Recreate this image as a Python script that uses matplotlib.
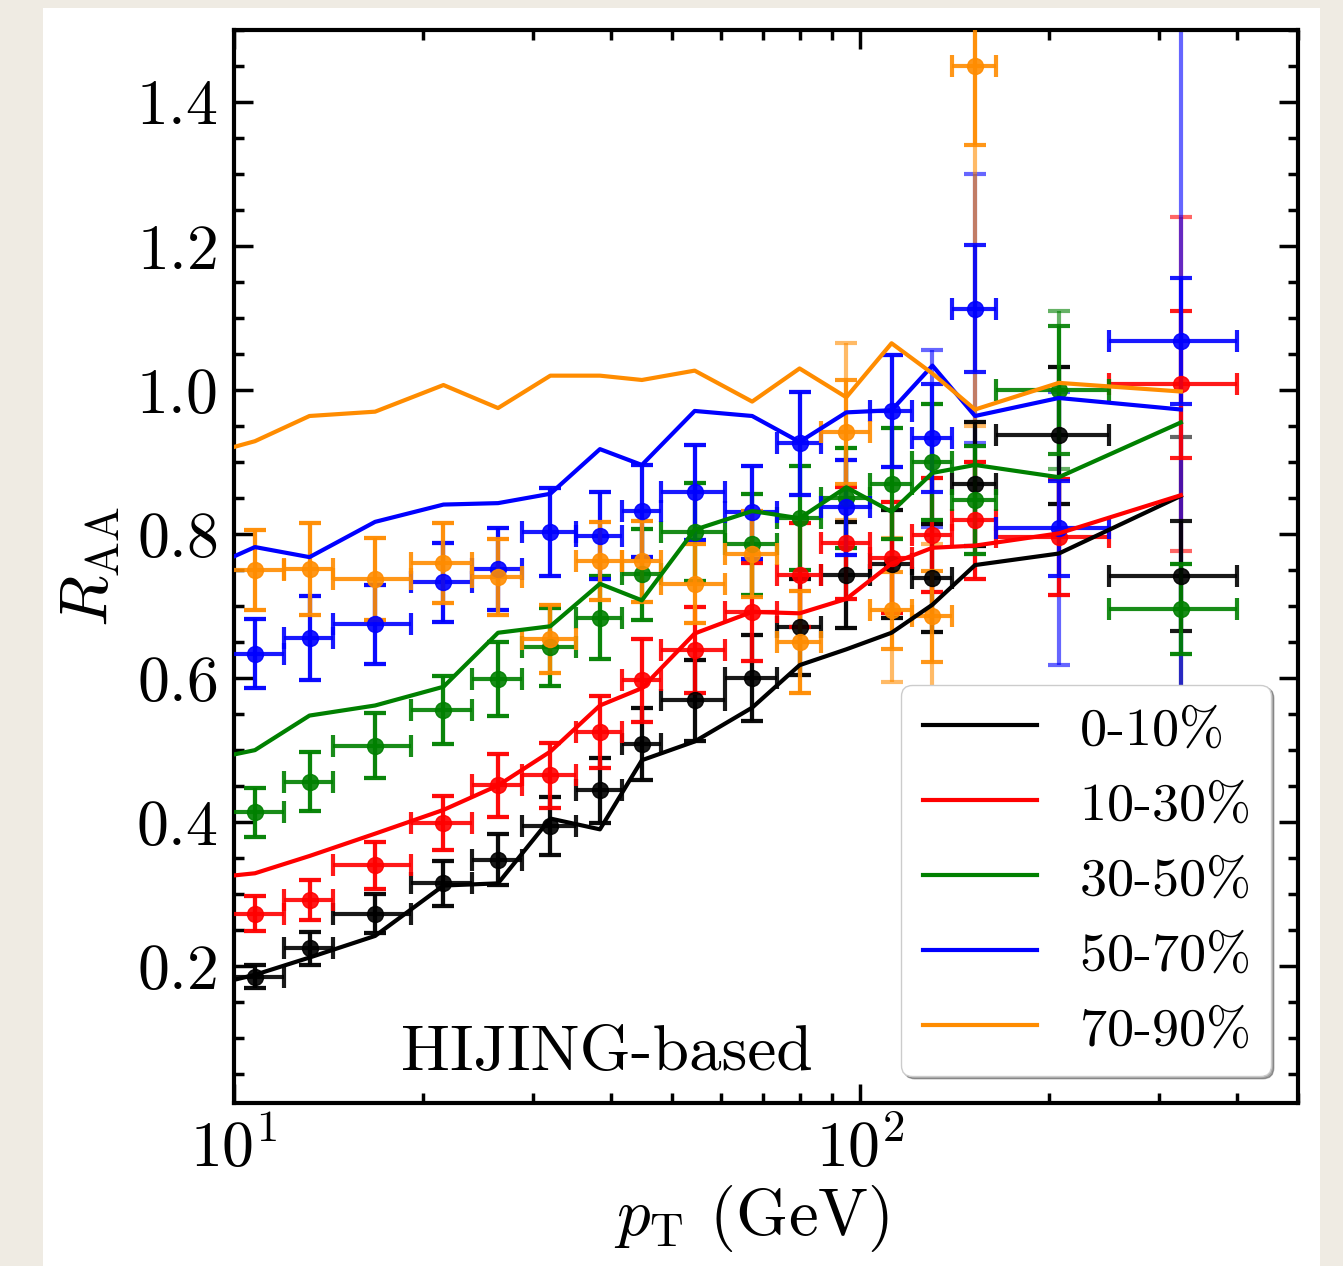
import matplotlib as mpl
mpl.use("Agg")
import matplotlib.pyplot as plt
import numpy as np
from matplotlib.patches import Rectangle

mpl.rcParams.update({
    "font.family": "serif",
    "font.serif": ["cmr10"],
    "mathtext.fontset": "cm",
    "axes.formatter.use_mathtext": True,
    "axes.unicode_minus": False,
})

# ---------------------------------------------------------------------------
# data: pT bins (GeV) shared by all centrality classes
# ---------------------------------------------------------------------------
pt = [10.8, 13.2, 16.8, 21.6, 26.4, 32.0, 38.4, 44.8, 54.4, 67.2, 80.0,
      95.0, 112.2, 130.4, 152.5, 207.5, 325.0]
pt_half = [1.2, 1.2, 2.4, 2.4, 2.4, 3.2, 3.2, 3.2, 6.4, 6.4, 6.4,
           8.6, 8.6, 9.6, 12.5, 42.5, 75.0]

# model curves (first vertex at the left edge of the plot)
pt_line = [10.0] + pt
line_0_10 = [0.181, 0.188, 0.212, 0.242, 0.312, 0.315, 0.405, 0.390, 0.486,
             0.512, 0.559, 0.618, 0.640, 0.663, 0.702, 0.757, 0.773, 0.853]
line_10_30 = [0.326, 0.329, 0.353, 0.384, 0.417, 0.451, 0.498, 0.562, 0.586,
              0.662, 0.692, 0.690, 0.710, 0.759, 0.781, 0.784, 0.801, 0.854]
line_30_50 = [0.494, 0.500, 0.548, 0.562, 0.588, 0.663, 0.672, 0.731, 0.708,
              0.806, 0.832, 0.822, 0.865, 0.831, 0.885, 0.896, 0.879, 0.955]
line_50_70 = [0.769, 0.782, 0.768, 0.817, 0.841, 0.843, 0.856, 0.918, 0.896,
              0.971, 0.964, 0.928, 0.969, 0.972, 1.034, 0.964, 0.989, 0.973]
line_70_90 = [0.921, 0.929, 0.964, 0.970, 1.007, 0.975, 1.020, 1.020, 1.014,
              1.027, 0.984, 1.030, 0.990, 1.065, 1.023, 0.973, 1.010, 0.998]

# measured R_AA, inner (capped) and outer (faint) uncertainties
nan = np.nan
raa_0_10 = [0.185, 0.225, 0.273, 0.315, 0.348, 0.395, 0.444, 0.508, 0.569,
            0.600, 0.671, 0.743, 0.759, 0.739, 0.870, 0.937, 0.742]
err_0_10 = [0.016, 0.023, 0.027, 0.031, 0.035, 0.040, 0.045, 0.050, 0.056,
            0.060, 0.066, 0.074, 0.075, 0.075, 0.086, 0.095, 0.076]
out_0_10 = [0.016, 0.023, 0.027, 0.031, 0.035, 0.040, 0.045, 0.050, 0.056,
            0.060, 0.066, 0.074, 0.075, 0.075, 0.086, 0.095, 0.193]

raa_10_30 = [0.273, 0.292, 0.340, 0.399, 0.451, 0.465, 0.525, 0.597, 0.639,
             0.692, 0.743, 0.788, 0.767, 0.799, 0.819, 0.796, 1.008]
err_10_30 = [0.024, 0.028, 0.033, 0.038, 0.044, 0.045, 0.050, 0.058, 0.060,
             0.068, 0.072, 0.078, 0.077, 0.079, 0.081, 0.080, 0.102]
out_10_30 = [0.024, 0.028, 0.033, 0.038, 0.044, 0.045, 0.050, 0.058, 0.060,
             0.068, 0.072, 0.078, 0.077, 0.079, 0.081, 0.080, 0.232]

raa_30_50 = [0.414, 0.456, 0.506, 0.556, 0.599, 0.643, 0.684, 0.744, 0.803,
             0.786, 0.822, 0.850, 0.870, 0.900, 0.847, 1.000, 0.696]
err_30_50 = [0.034, 0.041, 0.045, 0.047, 0.051, 0.054, 0.058, 0.063, 0.068,
             0.070, 0.072, 0.070, 0.077, 0.080, 0.075, 0.089, 0.063]
out_30_50 = [0.034, 0.041, 0.045, 0.047, 0.051, 0.054, 0.058, 0.063, 0.068,
             0.070, 0.072, 0.070, 0.077, 0.080, 0.075, 0.110, 0.063]

raa_50_70 = [0.634, 0.656, 0.675, 0.733, 0.752, 0.803, 0.798, 0.832, 0.858,
             0.830, 0.926, 0.837, 0.971, 0.933, 1.113, 0.808, 1.068]
err_50_70 = [0.048, 0.058, 0.055, 0.055, 0.057, 0.061, 0.060, 0.064, 0.066,
             0.065, 0.072, 0.066, 0.078, 0.075, 0.088, 0.066, 0.088]
out_50_70 = [0.048, 0.058, 0.055, 0.055, 0.057, 0.061, 0.060, 0.064, 0.066,
             0.065, 0.072, 0.066, 0.078, 0.123, 0.187, 0.190, 0.500]

raa_70_90 = [0.750, 0.752, 0.738, 0.760, 0.740, 0.654, 0.763, 0.762, 0.731,
             0.772, 0.650, 0.942, 0.694, 0.686, 1.450, nan, nan]
err_70_90 = [0.055, 0.064, 0.057, 0.055, 0.053, 0.047, 0.054, 0.056, 0.055,
             0.060, 0.071, 0.072, 0.053, 0.063, 0.110, nan, nan]
out_70_90 = [0.055, 0.064, 0.057, 0.055, 0.053, 0.047, 0.054, 0.056, 0.055,
             0.060, 0.071, 0.123, 0.100, 0.100, 0.500, nan, nan]

labels = ["0-10%", "10-30%", "30-50%", "50-70%", "70-90%"]
colors = ["black", "red", "green", "blue", "darkorange"]
lines = [line_0_10, line_10_30, line_30_50, line_50_70, line_70_90]
raas = [raa_0_10, raa_10_30, raa_30_50, raa_50_70, raa_70_90]
errs = [err_0_10, err_10_30, err_30_50, err_50_70, err_70_90]
outs = [out_0_10, out_10_30, out_30_50, out_50_70, out_70_90]

# ---------------------------------------------------------------------------
fig = plt.figure(figsize=(13.43, 12.66), dpi=100, facecolor="#efebe3")
fig.patches.append(Rectangle((43 / 1343, 0), (1320 - 43) / 1343, 1 - 8 / 1266,
                             transform=fig.transFigure, facecolor="white",
                             edgecolor="none", zorder=-10))
ax = fig.add_axes([234 / 1343, 1 - 1103 / 1266, 1064 / 1343, 1073 / 1266])

for lab, c, ln, r, e, o in zip(labels, colors, lines, raas, errs, outs):
    ax.errorbar(pt, r, yerr=o, fmt="none", ecolor=c, elinewidth=3,
                capsize=8, capthick=3, alpha=0.6, zorder=2)
    ax.errorbar(pt, r, yerr=e, xerr=pt_half, fmt="o", color=c, ms=11.5,
                elinewidth=3, capsize=8, capthick=3, alpha=0.9, zorder=3)
for lab, c, ln in zip(labels, colors, lines):
    # small trailing math space widens the legend's right margin
    ax.plot(pt_line, ln, color=c, lw=3, label=lab + r"$\;$", zorder=4)

ax.set_xscale("log")
ax.set_xlim(10, 500)
ax.set_ylim(0.01, 1.5)
ax.set_yticks([0.2, 0.4, 0.6, 0.8, 1.0, 1.2, 1.4])
ax.yaxis.set_minor_locator(mpl.ticker.MultipleLocator(0.05))
ax.tick_params(which="both", direction="in", top=True, right=True,
               labelsize=46, width=2.5, pad=12)
ax.tick_params(which="major", length=14)
ax.tick_params(which="minor", length=7)
for s in ax.spines.values():
    s.set_linewidth(3)

ax.set_xlabel(r"$p_{\rm T}$ (GeV)", fontsize=48, labelpad=6)
ax.xaxis.set_label_coords(0.486, -0.075)
ax.set_ylabel(r"$R_{\rm AA}$", fontsize=48, labelpad=10)
ax.text(0.35, 0.031, "HIJING-based", transform=ax.transAxes, fontsize=47,
        ha="center", va="baseline")

leg = ax.legend(loc="lower right", fontsize=39, fancybox=True, shadow=True,
                framealpha=1, handlelength=2.1, handletextpad=0.78,
                labelspacing=0.5, borderpad=0.4, borderaxespad=0.5)
leg.set_zorder(10)

fig.savefig("out.png", dpi=100, facecolor=fig.get_facecolor())
